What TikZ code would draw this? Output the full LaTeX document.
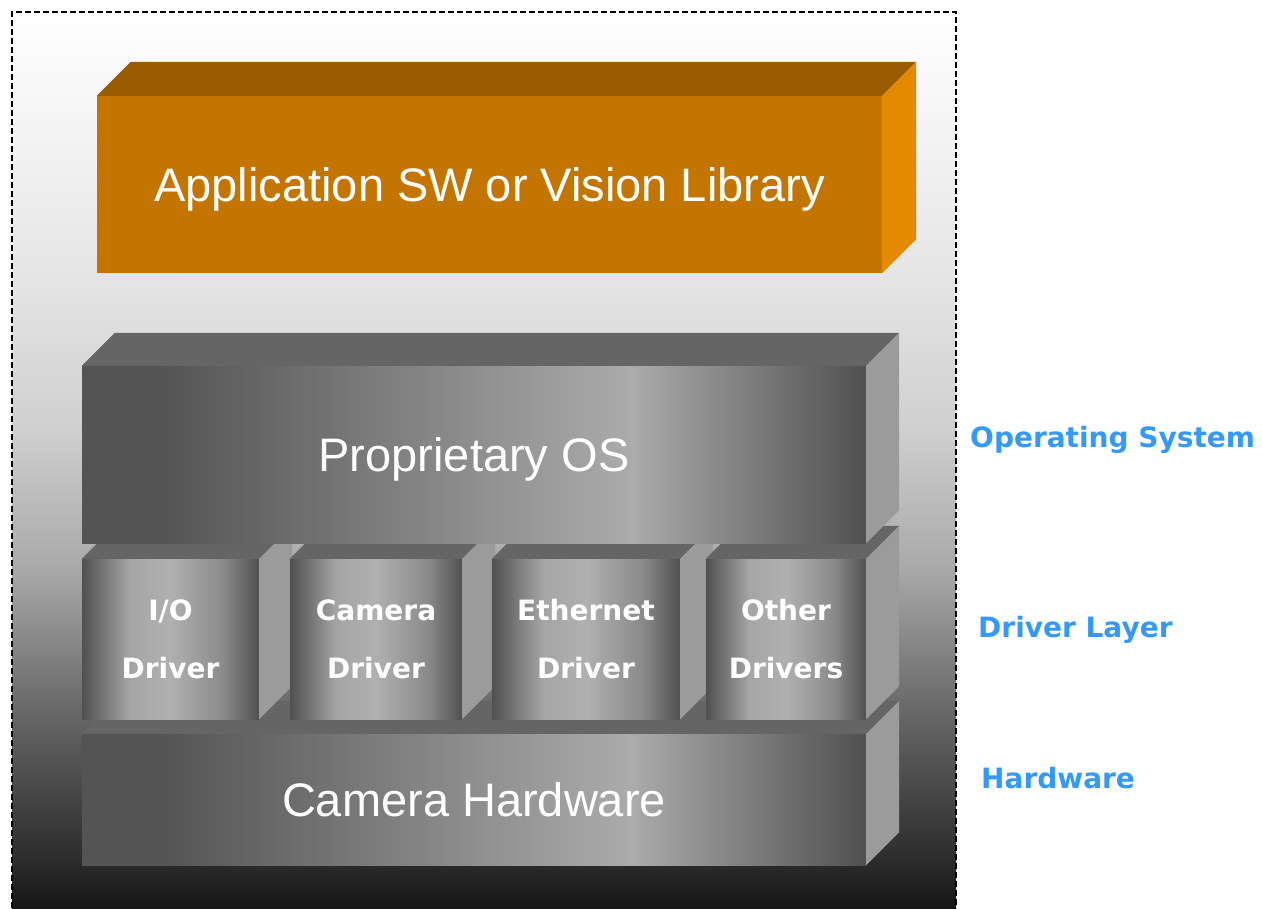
\documentclass[tikz,border=0pt]{standalone}
\usepackage{fontspec}
\setmainfont{Liberation Sans}
\newfontfamily\drvfont{DejaVu Sans}
\usepackage{tikz}

\definecolor{appface}{HTML}{C47500}
\definecolor{apptop}{HTML}{9A5C00}
\definecolor{appside}{HTML}{E38A00}
\definecolor{greytop}{HTML}{656565}
\definecolor{greyside}{HTML}{9B9B9B}
\definecolor{slabdark}{HTML}{545454}
\definecolor{slablight}{HTML}{ABABAB}
\definecolor{slabend}{HTML}{505050}
\definecolor{drvdark}{HTML}{505050}
\definecolor{drvmid}{HTML}{A5A5A5}
\definecolor{drvlight}{HTML}{B0B0B0}
\definecolor{drvfall}{HTML}{8A8A8A}
\definecolor{labelblue}{HTML}{3399FF}
\definecolor{bgA}{HTML}{E6E6E6}
\definecolor{bgB}{HTML}{CFCFCF}
\definecolor{bgC}{HTML}{A8A8A8}
\definecolor{bgD}{HTML}{6C6C6C}
\definecolor{bgE}{HTML}{2C2C2C}
\definecolor{bgF}{HTML}{161616}

\pgfdeclarehorizontalshading{slabfront}{100bp}{color(0bp)=(slabdark); color(25bp)=(slabdark); color(30bp)=(slabdark); color(60bp)=(slablight); color(75bp)=(slabend); color(100bp)=(slabend)}
\pgfdeclarehorizontalshading{drvfront}{100bp}{color(0bp)=(drvdark); color(25bp)=(drvdark); color(38.5bp)=(drvmid); color(50bp)=(drvlight); color(65bp)=(drvfall); color(75bp)=(drvdark); color(100bp)=(drvdark)}

\tikzset{
  frame/.style={dash pattern=on 6pt off 3pt, line width=1.7pt, black},
  appfront/.style={fill=appface, text=white, font=\fontsize{47}{56}\selectfont, text depth=0pt, inner sep=0pt, minimum width=785pt, minimum height=177pt},
  slab/.style={shade, shading=slabfront, text=white, font=\fontsize{47}{56}\selectfont, text depth=0pt, inner sep=0pt, minimum width=784pt},
  drvbox/.style={shade, shading=drvfront, text=white, font=\drvfont\bfseries\fontsize{28}{58}\selectfont, align=center, inner sep=0pt, minimum height=160pt},
  topface/.style={fill=greytop},
  sideface/.style={fill=greyside},
  layerlabel/.style={anchor=west, inner sep=0pt, text=labelblue, font=\drvfont\bfseries\fontsize{28}{34}\selectfont}
}

\begin{document}
\begin{tikzpicture}[x=1pt, y=-1pt]
  \useasboundingbox (0,0) rectangle (1263,908);

  % background inside the dashed frame
  \shade[top color=white, bottom color=bgA] (12,12) rectangle (956,270.5);
  \shade[top color=bgA, bottom color=bgB] (12,270) rectangle (956,430.5);
  \shade[top color=bgB, bottom color=bgC] (12,430) rectangle (956,570.5);
  \shade[top color=bgC, bottom color=bgD] (12,570) rectangle (956,700.5);
  \shade[top color=bgD, bottom color=bgE] (12,700) rectangle (956,860.5);
  \shade[top color=bgE, bottom color=bgF] (12,860) rectangle (956,908);
  \draw[frame] (12,908) -- (12,12) -- (956,12) -- (956,908);

  % application block
  \node[appfront] (app) at (489.5,184.5) {Application SW or Vision Library};
  \fill[apptop] (app.north west) -- ++(34,-34) -- ([shift={(34,-34)}]app.north east) -- (app.north east) -- cycle;
  \fill[appside] (app.north east) -- ++(34,-34) -- ([shift={(34,-34)}]app.south east) -- (app.south east) -- cycle;

  % hardware block
  \node[slab, minimum height=131pt] (hw) at (474,799.5) {Camera Hardware};
  \fill[topface] (hw.north west) -- ++(33,-33) -- ([shift={(33,-33)}]hw.north east) -- (hw.north east) -- cycle;
  \fill[sideface] (hw.north east) -- ++(33,-33) -- ([shift={(33,-33)}]hw.south east) -- (hw.south east) -- cycle;

  % driver boxes, left to right
  \node[drvbox, minimum width=177pt] (io) at (170.5,639) {I/O\\Driver};
  \fill[topface] (io.north west) -- ++(33,-33) -- ([shift={(33,-33)}]io.north east) -- (io.north east) -- cycle;
  \fill[sideface] (io.north east) -- ++(33,-33) -- ([shift={(33,-33)}]io.south east) -- (io.south east) -- cycle;

  \node[drvbox, minimum width=172pt] (cam) at (376,639) {Camera\\Driver};
  \fill[topface] (cam.north west) -- ++(33,-33) -- ([shift={(33,-33)}]cam.north east) -- (cam.north east) -- cycle;
  \fill[sideface] (cam.north east) -- ++(33,-33) -- ([shift={(33,-33)}]cam.south east) -- (cam.south east) -- cycle;

  \node[drvbox, minimum width=188pt] (eth) at (586,639) {Ethernet\\Driver};
  \fill[topface] (eth.north west) -- ++(33,-33) -- ([shift={(33,-33)}]eth.north east) -- (eth.north east) -- cycle;
  \fill[sideface] (eth.north east) -- ++(33,-33) -- ([shift={(33,-33)}]eth.south east) -- (eth.south east) -- cycle;

  \node[drvbox, minimum width=160pt] (other) at (786,639) {Other\\Drivers};
  \fill[topface] (other.north west) -- ++(33,-33) -- ([shift={(33,-33)}]other.north east) -- (other.north east) -- cycle;
  \fill[sideface] (other.north east) -- ++(33,-33) -- ([shift={(33,-33)}]other.south east) -- (other.south east) -- cycle;

  % operating system block
  \node[slab, minimum height=177pt] (os) at (474,454.5) {Proprietary OS};
  \fill[topface] (os.north west) -- ++(33,-33) -- ([shift={(33,-33)}]os.north east) -- (os.north east) -- cycle;
  \fill[sideface] (os.north east) -- ++(33,-33) -- ([shift={(33,-33)}]os.south east) -- (os.south east) -- cycle;

  % layer labels
  \node[layerlabel] (oslabel) at (970,440) {Operating System};
  \node[layerlabel] (drvlabel) at (978,630) {Driver Layer};
  \node[layerlabel] (hwlabel) at (981,778) {Hardware};
\end{tikzpicture}
\end{document}
